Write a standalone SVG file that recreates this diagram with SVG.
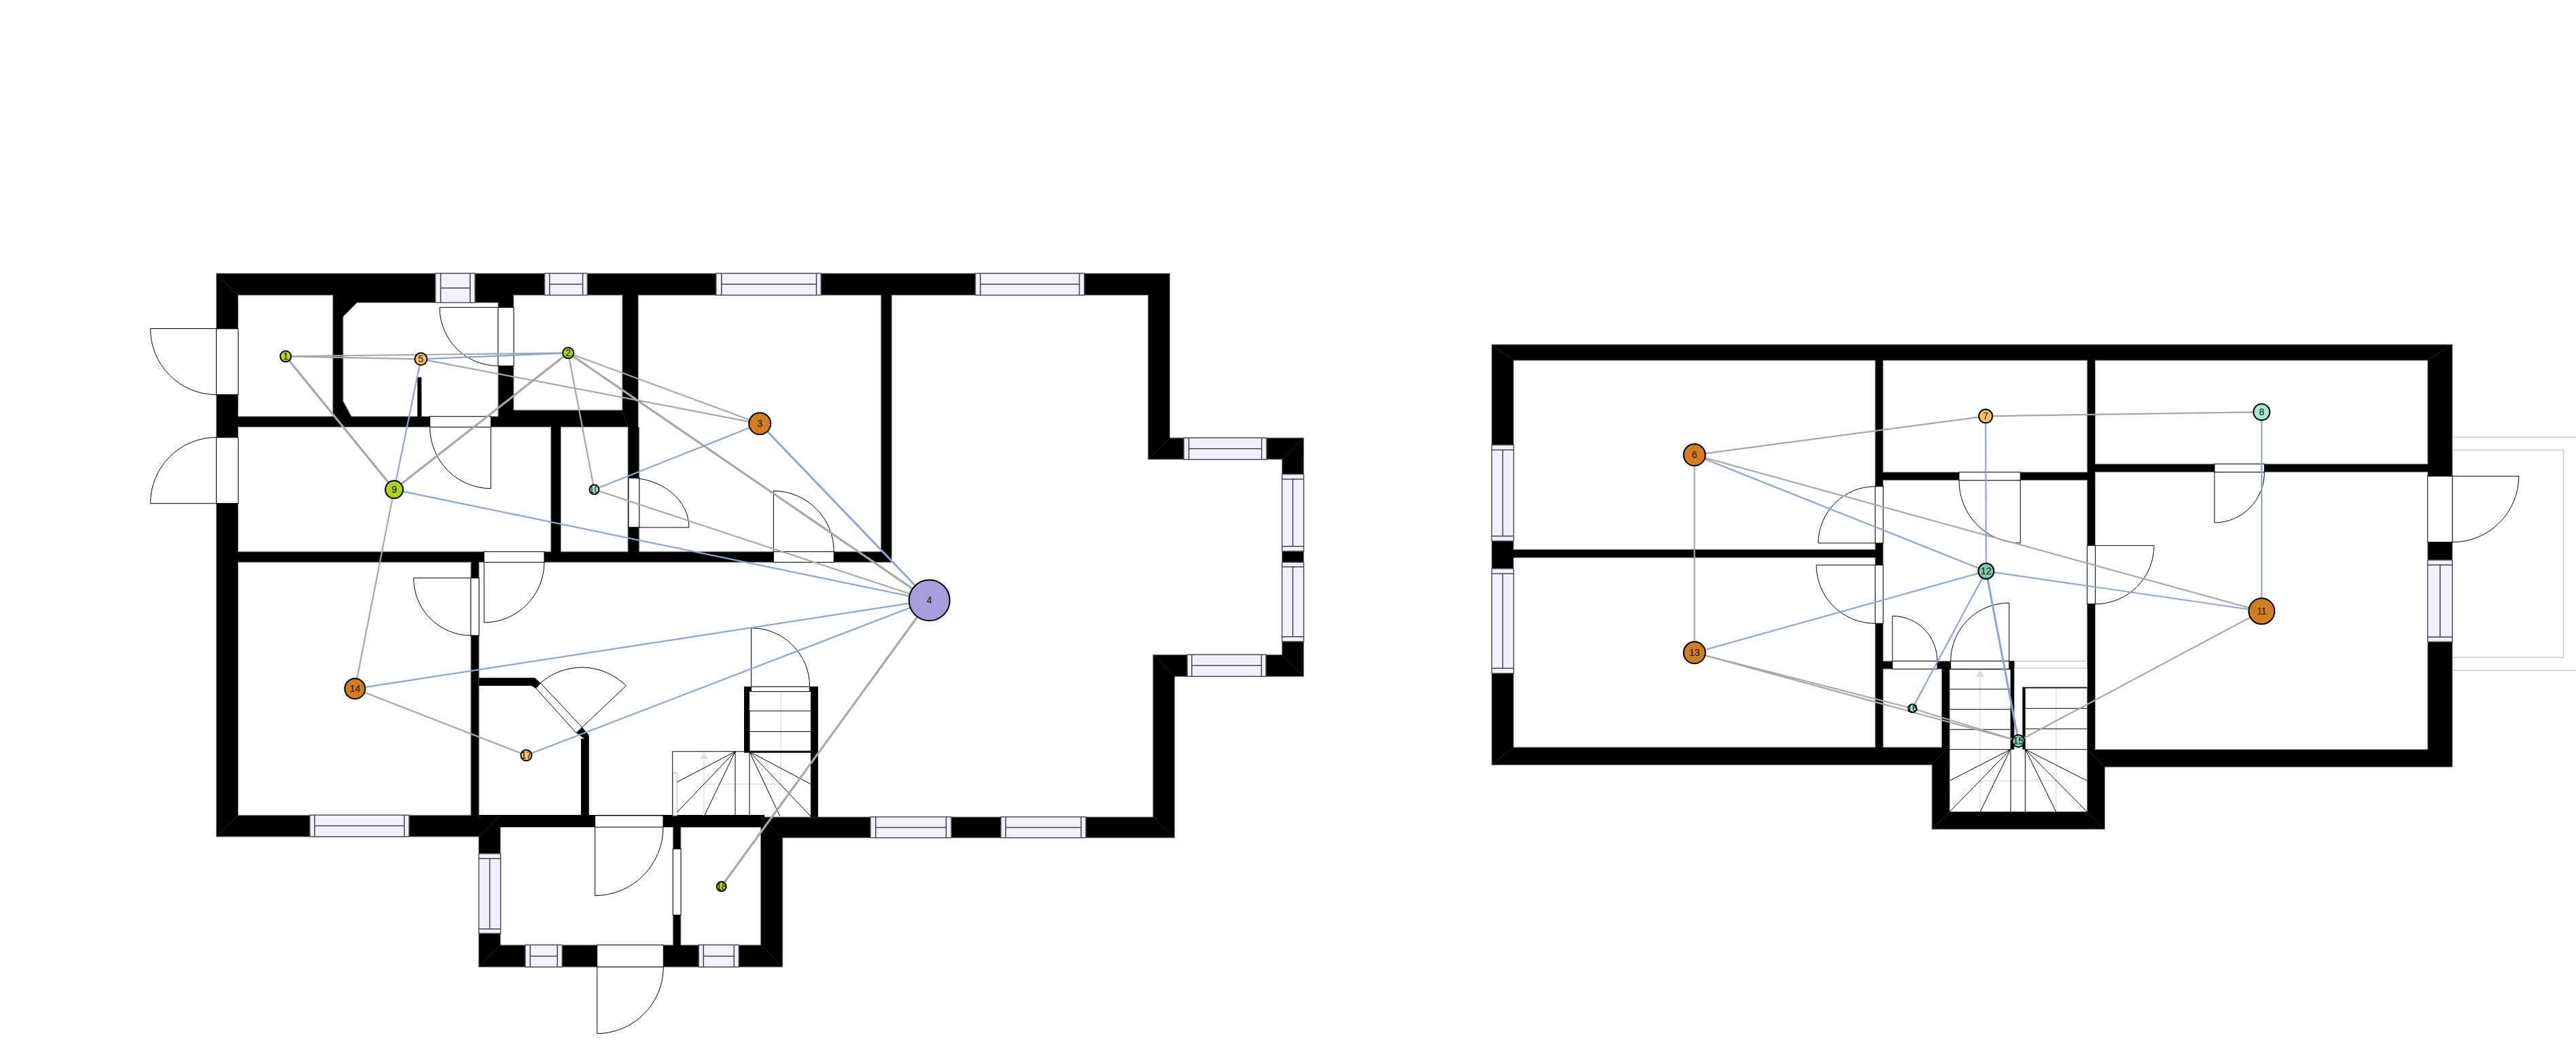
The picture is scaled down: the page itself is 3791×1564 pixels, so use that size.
<svg xmlns="http://www.w3.org/2000/svg" width="3791" height="1564" viewBox="0 0 3791 1564">
<style>
.wall{fill:#000;stroke:#666;stroke-width:1}
.bw{fill:#000}
.room{fill:#fff;stroke:#999;stroke-width:1}
.hair{stroke:#333;stroke-width:.8;fill:none}
.win{fill:#f0f0ff;stroke:#555;stroke-width:1.5}
.wl{stroke:#444;stroke-width:1.5;fill:none}
.door{fill:#fff;stroke:#000;stroke-width:1}
.leaf{fill:none;stroke:#000;stroke-width:1}
.stair{stroke:#000;stroke-width:1;fill:none}
.guide{stroke:#e0e0e0;stroke-width:1.5;fill:none}
.terr{stroke:#ccc;stroke-width:1.5;fill:none}
.g{stroke:#a8a8a3;stroke-width:2.2}
.gt{stroke:#a8a8a3;stroke-width:3.2}
.b{stroke:#8ca5d2;stroke-width:2.2}
.bt{stroke:#8ca5d2;stroke-width:3}
.n{stroke:#000;stroke-width:2}
.t{font-family:"Liberation Sans",Arial,sans-serif;font-size:14px;text-anchor:middle;fill:#111}
.lime{fill:#b0d41c}.amb{fill:#ffc266}.ora{fill:#d27d1f}.pur{fill:#a89cdb}.mint{fill:#a6e9cf}.tea{fill:#75cdb0}
</style>
<g id="plan-ground">
<path class="wall" d="M318.4 402.3H1721.4V644.3H1918.6V995.2H1728.6V1232.6H1151.7V1422.7H704.7V1231H318.4Z"/>
<rect class="room" x="350.5" y="434.3" width="139.3" height="178.4"/>
<path class="room" d="M525.5 445.3H733V612.7H517.3L505 590V466Z"/>
<rect class="bw" x="614.3" y="555" width="6.1" height="58"/>
<rect class="room" x="756" y="434.3" width="159.8" height="169"/>
<rect class="room" x="350.5" y="628.3" width="460.2" height="183.4"/>
<rect class="room" x="825.5" y="628.3" width="98.5" height="183.4"/>
<rect class="room" x="350.5" y="827.3" width="342.4" height="372"/>
<path class="room" d="M939.3 434.3H1296.4V811.7H940.8V628.3H939.3Z"/>
<path class="room" d="M1312.3 434.3H1689.5V676H1886.7V963.2H1696.8V1202H705V827.3H1312.3Z"/>
<rect class="room" x="736.7" y="1216.7" width="253.6" height="173.6"/>
<rect class="room" x="1002" y="1217" width="117.3" height="173.3"/>
<path class="bw" d="M705 997.3H787.2L795.4 1005L788.8 1012.7L782.1 1009H705Z"/>
<path class="bw" d="M856.7 1070L866.8 1081.7V1200H855V1086.7H860L848 1078.3Z"/>
<rect class="bw" x="705" y="1199" width="420" height="18"/>
<rect class="bw" x="1095" y="1010.4" width="109" height="7.1"/>
<rect class="bw" x="1095" y="1010.4" width="8" height="96"/>
<rect class="bw" x="1193" y="1010.4" width="11" height="192"/>
<path class="door" d="M788.8 1012.7L795.4 1005L856.7 1070L848 1078.3Z"/>
<path class="hair" d="M318.4 402.3L350.5 434.3M318.4 1231L350.5 1199.3M705 1231L736.7 1199.3M704.7 1422.7L736.7 1390.3M1151.7 1422.7L1119.3 1390.3M1119.3 1201L1151.7 1233M1689.5 676L1721.4 644.3M1918.6 644.3L1886.7 676M1696.8 963.2L1728.6 995.2M1918.4 995.2L1886.6 963.2M1696.8 1202L1728.6 1232.6M915.8 603.3L924 628.3"/>
<path class="guide" d="M1036 1116V1200M1036 1153.5H1149M1149 1017.5V1153.5"/>
<path fill="#ddd" d="M1036 1106.7L1030 1116.7H1042Z"/>
<rect x="989.8" y="1137" width="6.6" height="63" fill="#fff" stroke="#bbb" stroke-width="1"/>
<path class="stair" d="M989.8 1200V1105.7H1193M1082 1105.7V1200M1103 1046V1200M1103 1046H1193M1103 1076.4H1193M1082 1105.7L996.4 1150.7M1082 1105.7L996.4 1195M1082 1105.7L1036.7 1200M1103 1106L1193 1153.5M1103 1106L1193 1201M1103 1106L1147.7 1200.6"/>
<rect class="bw" x="1095" y="1104.6" width="98" height="3"/>
<g id="doors-ground">
<rect class="door" x="318.4" y="483.7" width="32.1" height="97"/><path class="leaf" d="M318.4 483.5H221.4A97 97 0 0 0 318.4 580.7"/>
<rect class="door" x="318.4" y="643.7" width="32.1" height="97"/><path class="leaf" d="M318.4 740.7H221.4A97 97 0 0 1 318.4 643.5"/>
<rect class="door" x="733" y="452.3" width="23" height="86"/><path class="leaf" d="M733 452.3H647A86 86 0 0 0 733 538.3"/>
<rect class="door" x="632.7" y="612.7" width="89.7" height="15.6"/><path class="leaf" d="M722.4 628.3V718.7A90 90 0 0 1 632.7 628.3"/>
<rect class="door" x="925" y="703" width="15.8" height="73"/><path class="leaf" d="M925 776H1014A89 73 0 0 0 925 703"/>
<rect class="door" x="712.3" y="811.7" width="88.7" height="15.6"/><path class="leaf" d="M712.3 827.3V916A89 89 0 0 0 801 827.3"/>
<rect class="door" x="692.9" y="850.3" width="12.1" height="84.7"/><path class="leaf" d="M692.9 850.3H608.7A84.5 84.5 0 0 0 692.9 935"/>
<rect class="door" x="1138.4" y="811.7" width="88.8" height="15.6"/><path class="leaf" d="M1138.4 811.7V722.3A89 89 0 0 1 1227.2 811.7"/>
<rect class="door" x="1105.5" y="1010.4" width="86.1" height="7.1"/><path class="leaf" d="M1105.5 1010V924A86 86 0 0 1 1191.6 1010"/>
<path class="leaf" d="M856.7 1070L921.4 1009A92 92 0 0 0 795.4 1005"/>
<rect class="door" x="875.7" y="1200" width="100.3" height="17"/><path class="leaf" d="M875.7 1217V1317.7A100.5 100.5 0 0 0 976 1217"/>
<rect class="door" x="990.3" y="1249" width="11.7" height="97.3"/>
<rect class="door" x="878.7" y="1390.3" width="97.6" height="32.4"/><path class="leaf" d="M878.7 1422.7V1520.7A98 98 0 0 0 976.3 1422.7"/>
</g>
<g id="windows-ground">
<rect class="win" x="640.8" y="402.3" width="58.2" height="43"/><path class="wl" d="M648.5 402.3V445.3M691.8 402.3V445.3M648.5 423.7H691.8"/>
<rect class="win" x="801.5" y="402.3" width="62.8" height="32"/><path class="wl" d="M808.7 402.3V434.3M857.6 402.3V434.3M808.7 418.3H857.6"/>
<rect class="win" x="1053.9" y="402.3" width="154.3" height="32"/><path class="wl" d="M1061.8 402.3V434.3M1201.5 402.3V434.3M1061.8 418.3H1201.5"/>
<rect class="win" x="1435.4" y="402.3" width="160.4" height="32"/><path class="wl" d="M1442.7 402.3V434.3M1588.5 402.3V434.3M1442.7 418.3H1588.5"/>
<rect class="win" x="1742.2" y="644.3" width="121.8" height="31.7"/><path class="wl" d="M1749.6 644.3V676M1856.7 644.3V676M1749.6 660.3H1856.7"/>
<rect class="win" x="1886.7" y="697.7" width="31.9" height="113.3"/><path class="wl" d="M1886.7 705H1918.6M1886.7 803.7H1918.6M1902.6 705V803.7"/>
<rect class="win" x="1886.7" y="827.3" width="31.9" height="116.6"/><path class="wl" d="M1886.7 834H1918.6M1886.7 936.7H1918.6M1902.6 834V936.7"/>
<rect class="win" x="1747.3" y="963.2" width="115.7" height="32"/><path class="wl" d="M1753.9 963.2V995.2M1856.4 963.2V995.2M1753.9 979.2H1856.4"/>
<rect class="win" x="1281" y="1201.9" width="119" height="30.7"/><path class="wl" d="M1288.7 1201.9V1232.6M1392.4 1201.9V1232.6M1288.7 1217.4H1392.4"/>
<rect class="win" x="1473" y="1201.9" width="125" height="30.7"/><path class="wl" d="M1480 1201.9V1232.6M1591 1201.9V1232.6M1480 1217.4H1591"/>
<rect class="win" x="456" y="1199.3" width="146" height="31.7"/><path class="wl" d="M463 1199.3V1231M595 1199.3V1231M463 1215H595"/>
<rect class="win" x="704.7" y="1256" width="32" height="117.3"/><path class="wl" d="M704.7 1263.3H736.7M704.7 1366.7H736.7M720.7 1263.3V1366.7"/>
<rect class="win" x="773" y="1390.3" width="54.3" height="32.4"/><path class="wl" d="M780.3 1390.3V1422.7M820.3 1390.3V1422.7M780.3 1406.7H820.3"/>
<rect class="win" x="1028.3" y="1390.3" width="59" height="32.4"/><path class="wl" d="M1035.3 1390.3V1422.7M1080.3 1390.3V1422.7M1035.3 1406.7H1080.3"/>
</g>
</g>
<g id="plan-upper">
<path class="terr" d="M3609 643.5H3791M3609 662.3H3772.7V967.3H3609M3609 986.3H3791"/>
<path class="wall" d="M2195.4 507H3609V1128.3H3097.5V1220H2843.2V1125.3H2195.4Z"/>
<rect class="room" x="2227.6" y="530.3" width="532.1" height="278"/>
<rect class="room" x="2227.6" y="820.7" width="532.1" height="278.6"/>
<rect class="room" x="2771.3" y="530.3" width="300.3" height="164.4"/>
<rect class="room" x="3083.5" y="530.3" width="489.2" height="152.4"/>
<path class="room" d="M2771.4 706.7H3071.6V1011.7H2964.3V972.7H2771.4Z"/>
<rect class="room" x="2771.4" y="984.3" width="86.1" height="115"/>
<rect class="room" x="3083.5" y="694.7" width="489.2" height="408"/>
<path fill="#fff" d="M2869.3 984.3H3071.6V1194.3H2869.3Z"/>
<rect class="bw" x="2958.6" y="972.7" width="5.7" height="130"/>
<rect class="bw" x="2976.4" y="1011.7" width="4.3" height="91"/>
<path class="terr" d="M2964.3 972.7H3071.6M2964.3 983.3H3071.6"/>
<path class="guide" d="M2914 995.7V1194.3M3026 1011.7V1194.3M2914 1148.7H3026"/>
<path fill="#ddd" d="M2914 986L2908 995.7H2920Z"/>
<path class="stair" d="M2869.3 1014H2958.6M2869.3 1043.7H2958.6M2869.3 1073.3H2958.6M2869.3 1102.7H2958.6M2980.7 1042.3H3071.4M2980.7 1072.3H3071.4M2980.7 1102.7H3071.4M2959 1102.7V1194.3M2980.4 1102.7V1194.3M2958.6 1102.7L2869.3 1148.7M2958.6 1102.7L2869.3 1194.3M2958.6 1102.7L2914.3 1194.3M2980.7 1102.7L3071.4 1148.7M2980.7 1102.7L3071.4 1194.3M2980.7 1102.7L3025.7 1194.3"/>
<path d="M2869.3 984.3H2958.6M2976.4 1011.7H3071.4" stroke="#222" stroke-width="2" fill="none"/>
<path class="hair" d="M2195.4 507L2227.6 530.3M3609 507L3572.7 530.3M2195.4 1125.3L2227.6 1099.3M2843.2 1125L2869.3 1099.3M3097.5 1128.3L3071.4 1102.7M2843.2 1220L2869.3 1194.3M3097.5 1220L3071.4 1194.3"/>
<g id="doors-upper">
<rect class="door" x="2759.7" y="715.7" width="11.6" height="83.3"/><path class="leaf" d="M2759.7 799H2675.8A84 84 0 0 1 2759.7 715.7"/>
<rect class="door" x="2759.7" y="831.3" width="11.6" height="86"/><path class="leaf" d="M2759.7 831.3H2673A86.5 86 0 0 0 2759.7 917.3"/>
<rect class="door" x="2785" y="972.7" width="66" height="11.6"/><path class="leaf" d="M2785 972.7V906.3A66 66 0 0 1 2851 972.7"/>
<rect class="door" x="2870.7" y="972.7" width="86.1" height="11.6"/><path class="leaf" d="M2956.8 972.7V887A86 86 0 0 0 2870.7 972.7"/>
<rect class="door" x="2883" y="694.7" width="90.3" height="12"/><path class="leaf" d="M2973.3 706.7V799A90.5 92 0 0 1 2883 706.7"/>
<rect class="door" x="3259" y="682.7" width="73.4" height="12"/><path class="leaf" d="M3259 694.7V769A73.5 74 0 0 0 3332.4 694.7"/>
<rect class="door" x="3071.6" y="802.7" width="11.9" height="86"/><path class="leaf" d="M3083.5 802.7H3170A86.5 86 0 0 1 3083.5 888.7"/>
<rect class="door" x="3572.7" y="700.7" width="36.3" height="97"/><path class="leaf" d="M3609 700.7H3706.8A97.8 97 0 0 1 3609 797.7"/>
</g>
<g id="windows-upper">
<rect class="win" x="2195.4" y="654.7" width="32.2" height="141.3"/><path class="wl" d="M2195.4 662H2227.6M2195.4 788.7H2227.6M2211.5 662V788.7"/>
<rect class="win" x="2195.4" y="836.7" width="32.2" height="154"/><path class="wl" d="M2195.4 844H2227.6M2195.4 983.3H2227.6M2211.5 844V983.3"/>
<rect class="win" x="3572.7" y="824" width="36.3" height="120.3"/><path class="wl" d="M3572.7 831.3H3609M3572.7 937.3H3609M3591 831.3V937.3"/>
</g>
</g>
<g id="connectors">
<line class="g" x1="420.4" y1="524.3" x2="619.4" y2="528.3"/>
<line class="g" x1="420.4" y1="524.3" x2="836.2" y2="519.3"/>
<line class="gt" x1="420.4" y1="524.3" x2="580.1" y2="720.3"/>
<line class="b" x1="619.4" y1="528.3" x2="836.2" y2="519.3"/>
<line class="g" x1="619.4" y1="528.3" x2="1118.2" y2="623.3"/>
<line class="b" x1="619.4" y1="528.3" x2="580.1" y2="720.3"/>
<line class="gt" x1="836.2" y1="519.3" x2="580.1" y2="720.3"/>
<line class="g" x1="836.2" y1="519.3" x2="874.5" y2="720.3"/>
<line class="g" x1="836.2" y1="519.3" x2="1118.2" y2="623.3"/>
<line class="gt" x1="836.2" y1="519.3" x2="1367.7" y2="883.2"/>
<line class="b" x1="580.1" y1="720.3" x2="1367.7" y2="883.2"/>
<line class="g" x1="580.1" y1="720.3" x2="522.4" y2="1013.3"/>
<line class="b" x1="874.5" y1="720.3" x2="1118.2" y2="623.3"/>
<line class="g" x1="874.5" y1="720.3" x2="1367.7" y2="883.2"/>
<line class="bt" x1="1118.2" y1="623.3" x2="1367.7" y2="883.2"/>
<line class="b" x1="522.4" y1="1013.3" x2="1367.7" y2="883.2"/>
<line class="g" x1="522.4" y1="1013.3" x2="774.5" y2="1111.3"/>
<line class="b" x1="774.5" y1="1111.3" x2="1367.7" y2="883.2"/>
<line class="gt" x1="1061.7" y1="1304.3" x2="1367.7" y2="883.2"/>
<line class="g" x1="2493.7" y1="669.3" x2="2922.2" y2="612.3"/>
<line class="b" x1="2493.7" y1="669.3" x2="2922.9" y2="840.3"/>
<line class="g" x1="2493.7" y1="669.3" x2="3328.4" y2="899.3"/>
<line class="g" x1="2493.7" y1="669.3" x2="2493.7" y2="960.3"/>
<line class="g" x1="2922.2" y1="612.3" x2="3328.4" y2="606.3"/>
<line class="b" x1="2922.2" y1="612.3" x2="2922.9" y2="840.3"/>
<line class="b" x1="3328.4" y1="606.3" x2="3328.4" y2="899.3"/>
<line class="b" x1="2922.9" y1="840.3" x2="2493.7" y2="960.3"/>
<line class="b" x1="2922.9" y1="840.3" x2="3328.4" y2="899.3"/>
<line class="b" x1="2922.9" y1="840.3" x2="2814.3" y2="1042.3"/>
<line class="bt" x1="2922.9" y1="840.3" x2="2970.4" y2="1090.3"/>
<line class="g" x1="2493.7" y1="960.3" x2="2814.3" y2="1042.3"/>
<line class="g" x1="2493.7" y1="960.3" x2="2970.4" y2="1090.3"/>
<line class="g" x1="2814.3" y1="1042.3" x2="2970.4" y2="1090.3"/>
<line class="g" x1="2970.4" y1="1090.3" x2="3328.4" y2="899.3"/>
</g>
<g id="node-1"><circle class="n lime" cx="420.4" cy="524.3" r="8"/><text class="t" x="420.4" y="529.3">1</text></g>
<g id="node-2"><circle class="n lime" cx="836.2" cy="519.3" r="8"/><text class="t" x="836.2" y="524.3">2</text></g>
<g id="node-3"><circle class="n ora" cx="1118.2" cy="623.3" r="16"/><text class="t" x="1118.2" y="628.3">3</text></g>
<g id="node-4"><circle class="n pur" cx="1367.7" cy="883.2" r="30"/><text class="t" x="1367.7" y="888.2">4</text></g>
<g id="node-5"><circle class="n amb" cx="619.4" cy="528.3" r="9"/><text class="t" x="619.4" y="533.3">5</text></g>
<g id="node-6"><circle class="n ora" cx="2493.7" cy="669.3" r="16"/><text class="t" x="2493.7" y="674.3">6</text></g>
<g id="node-7"><circle class="n amb" cx="2922.2" cy="612.3" r="10"/><text class="t" x="2922.2" y="617.3">7</text></g>
<g id="node-8"><circle class="n mint" cx="3328.4" cy="606.3" r="12"/><text class="t" x="3328.4" y="611.3">8</text></g>
<g id="node-9"><circle class="n lime" cx="580.1" cy="720.3" r="13"/><text class="t" x="580.1" y="725.3">9</text></g>
<g id="node-10"><circle class="n mint" cx="874.5" cy="720.3" r="7"/><text class="t" x="874.5" y="725.3">10</text></g>
<g id="node-11"><circle class="n ora" cx="3328.4" cy="899.3" r="19"/><text class="t" x="3328.4" y="904.3">11</text></g>
<g id="node-12"><circle class="n tea" cx="2922.9" cy="840.3" r="11.5"/><text class="t" x="2922.9" y="845.3">12</text></g>
<g id="node-13"><circle class="n ora" cx="2493.7" cy="960.3" r="16"/><text class="t" x="2493.7" y="965.3">13</text></g>
<g id="node-14"><circle class="n ora" cx="522.4" cy="1013.3" r="15"/><text class="t" x="522.4" y="1018.3">14</text></g>
<g id="node-15"><circle class="n tea" cx="2970.4" cy="1090.3" r="9"/><text class="t" x="2970.4" y="1095.3">15</text></g>
<g id="node-16"><circle class="n mint" cx="2814.3" cy="1042.3" r="6"/><text class="t" x="2814.3" y="1047.3">16</text></g>
<g id="node-17"><circle class="n amb" cx="774.5" cy="1111.3" r="8"/><text class="t" x="774.5" y="1116.3">17</text></g>
<g id="node-18"><circle class="n lime" cx="1061.7" cy="1304.3" r="7"/><text class="t" x="1061.7" y="1309.3">18</text></g>
</svg>
